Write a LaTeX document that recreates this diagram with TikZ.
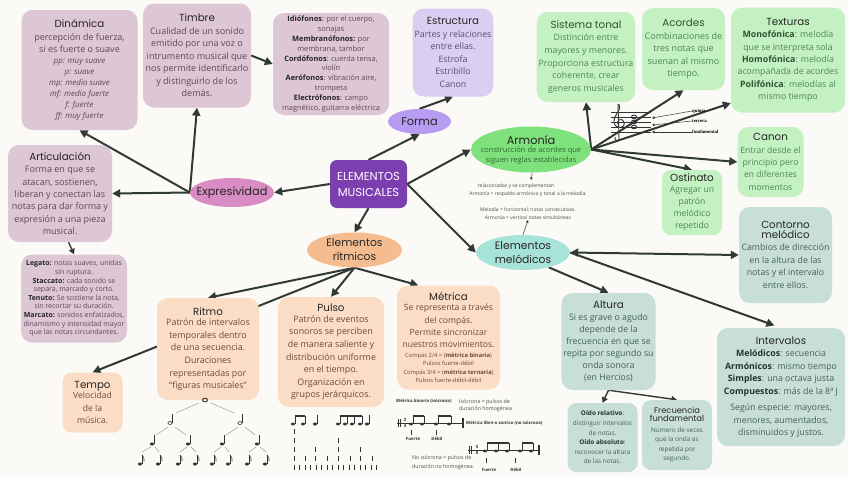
\documentclass[tikz,border=0pt]{standalone}
\usepackage{fontspec}
\setmainfont{Open Sans}
\newfontfamily\titlefont{Poppins}
\newfontfamily\notefont{Liberation Serif}
\usetikzlibrary{arrows.meta,shapes.geometric}
\definecolor{bgc}{HTML}{FCFAF6}
\definecolor{mauveF}{HTML}{DDC7D5}
\definecolor{mauveT}{HTML}{5E4858}
\definecolor{lavF}{HTML}{DACEF3}
\definecolor{lavT}{HTML}{5A4E6E}
\definecolor{formaF}{HTML}{B89CF1}
\definecolor{centerF}{HTML}{7B3FB0}
\definecolor{exprF}{HTML}{D98BC3}
\definecolor{greenF}{HTML}{C3F1C1}
\definecolor{greenT}{HTML}{4B8752}
\definecolor{greenB}{HTML}{2F5233}
\definecolor{armF}{HTML}{7FE17B}
\definecolor{armTc}{HTML}{2F6B33}
\definecolor{tealF}{HTML}{C8DFD9}
\definecolor{tealT}{HTML}{42605A}
\definecolor{tealB}{HTML}{1F3530}
\definecolor{melF}{HTML}{A8E3DA}
\definecolor{orF}{HTML}{F5BD8F}
\definecolor{peachF}{HTML}{FBDCC5}
\definecolor{peachT}{HTML}{6E4B36}
\definecolor{titc}{HTML}{262626}
\definecolor{arrowC}{HTML}{2E3A33}
\definecolor{notec}{HTML}{333333}
\newcommand\mtitle[1]{{\titlefont\fontsize{10.3}{12}\selectfont\color{titc}#1}}
\newcommand\mital[1]{{\itshape\fontsize{8}{10}\selectfont #1}}
\newcommand\ntq[2]{\fill[notec] (#1,#2) ellipse (2.1 and 1.5);\draw[notec,line width=0.5pt] (#1+1.9,#2) -- (#1+1.9,#2-9);}
\newcommand\nth[2]{\draw[notec,line width=0.6pt] (#1,#2) ellipse (2.1 and 1.5);\draw[notec,line width=0.5pt] (#1+2.1,#2) -- (#1+2.1,#2-9);}
\newcommand\ntw[2]{\draw[notec,line width=0.9pt] (#1,#2) ellipse (2.6 and 1.8);}
\newcommand\nte[2]{\ntq{#1}{#2}\draw[notec,line width=0.6pt] (#1+1.9,#2-9) .. controls (#1+3.5,#2-7) and (#1+5,#2-5.5) .. (#1+4,#2-3);}
\newcommand\ntb[2]{\fill[notec] (#1,#2) ellipse (2 and 1.4);\draw[notec,line width=0.5pt] (#1+1.8,#2) -- (#1+1.8,#2-8);}
\pgfdeclarelayer{back}\pgfdeclarelayer{conn}\pgfsetlayers{back,conn,main}
\begin{document}
\begin{tikzpicture}[x=1pt,y=-1pt,
  box/.style={rounded corners=11pt, align=center, inner sep=2pt, font=\fontsize{9}{12.5}\selectfont},
  mbox/.style={box, fill=mauveF, text=mauveT},
  lbox/.style={box, fill=lavF, text=lavT},
  gbox/.style={box, fill=greenF, text=greenT},
  tbox/.style={box, fill=tealF, text=tealT},
  pbox/.style={box, fill=peachF, text=peachT},
  oval/.style={ellipse, inner sep=0pt},
  otext/.style={align=center, inner sep=0pt, text=titc, font=\titlefont\fontsize{11.3}{15}\selectfont},
  conn/.style={draw=arrowC, line width=2pt, -{Triangle[length=8pt,width=8pt]}},
  thinconn/.style={draw=arrowC, line width=1.4pt, -{Triangle[length=5.5pt,width=6pt]}},
  tiny/.style={draw=arrowC, line width=0.5pt, -{Triangle[length=2.5pt,width=2.5pt]}},
  smalltxt/.style={font=\fontsize{5}{7}\selectfont, text=black!70, inner sep=0pt},
  ntxt/.style={font=\fontsize{5.3}{7}\selectfont, text=black!70, inner sep=0pt, anchor=west},
  mtxt/.style={font=\fontsize{4.3}{5}\selectfont\bfseries, text=black!80, inner sep=0pt},
  lbl/.style={font=\notefont\bfseries\fontsize{4.8}{6}\selectfont, inner sep=0pt, anchor=west},
]
\begin{pgfonlayer}{back}
\fill[bgc] (0,0) rectangle (848,477);
\end{pgfonlayer}
\useasboundingbox (0,0) rectangle (848,477);

% ---------- center and ovals ----------
\node[fill=centerF, rounded corners=7pt, minimum width=77pt, minimum height=48pt, align=center, text=white, font=\titlefont\fontsize{11.5}{16}\selectfont] (cen) at (368.5,184) {ELEMENTOS\\MUSICALES};
\node[oval, fill=formaF, minimum width=63pt, minimum height=25pt] (forma) at (419.5,121.5) {};
\node[otext] (formaT) at (forma.center) {Forma};
\node[oval, fill=exprF, minimum width=84pt, minimum height=29pt] (expr) at (232,192.5) {};
\node[otext] (exprT) at (expr.center) {Expresividad};
\node[oval, fill=armF, minimum width=120pt, minimum height=46pt] (arm) at (531,149.5) {};
\node[otext, font=\fontsize{7.5}{9.5}\selectfont, text=armTc] (armT) at (arm.center) {{\titlefont\fontsize{11.3}{13}\selectfont\color{titc}Armonía}\\[-1pt] construcción de acordes que\\ siguen reglas establecidas};
\node[oval, fill=orF, minimum width=95pt, minimum height=35pt] (rit) at (354.5,250) {};
\node[otext, font=\titlefont\fontsize{10.8}{14}\selectfont] (ritT) at (rit.center) {Elementos\\rítmicos};
\node[oval, fill=melF, minimum width=94pt, minimum height=35pt] (mel) at (523,252.5) {};
\node[otext, font=\titlefont\fontsize{10.8}{14}\selectfont] (melT) at (mel.center) {Elementos\\melódicos};

% ---------- mauve ----------
\node[mbox, minimum width=116pt, minimum height=120pt] (din) at (79.5,70) {\mtitle{Dinámica}\\ percepción de fuerza,\\ si es fuerte o suave\\[-1.5pt] \mital{pp: muy suave}\\[-1.5pt] \mital{p: suave}\\[-1.5pt] \mital{mp: medio suave}\\[-1.5pt] \mital{mf: medio fuerte}\\[-1.5pt] \mital{f: fuerte}\\[-1.5pt] \mital{ff: muy fuerte}};
\node[mbox, minimum width=108pt, minimum height=104pt] (tim) at (197,55.5) {\mtitle{Timbre}\\ Cualidad de un sonido\\ emitido por una voz o\\ intrumento musical que\\ nos permite identificarlo\\ y distinguirlo de los\\ demás.};
\node[mbox, minimum width=116pt, minimum height=102pt, font=\fontsize{7.4}{9.8}\selectfont] (idio) at (331,64) {\textbf{\color{titc}Idiófonos}: por el cuerpo,\\ sonajas\\ \textbf{\color{titc}Membranófonos:} por\\ membrana, tambor\\ \textbf{\color{titc}Cordófonos}: cuerda tensa,\\ violín\\ \textbf{\color{titc}Aerófonos}: vibración aire,\\ trompeta\\ \textbf{\color{titc}Electrófonos}: campo\\ magnético, guitarra eléctrica};
\node[mbox, minimum width=104pt, minimum height=97pt, font=\fontsize{9}{12.3}\selectfont] (art) at (60,193.5) {\mtitle{Articulación}\\ Forma en que se\\ atacan, sostienen,\\ liberan y conectan las\\ notas para dar forma y\\ expresión a una pieza\\ musical.};
\node[mbox, minimum width=106pt, minimum height=88pt, font=\fontsize{7}{8.6}\selectfont] (leg) at (74,298.5) {\textbf{\color{titc}Legato:} notas suaves, unidas\\ sin ruptura.\\ \textbf{\color{titc}Staccato:} cada sonido se\\ separa, marcado y corto.\\ \textbf{\color{titc}Tenuto:} Se sostiene la nota,\\ sin recortar su duración.\\ \textbf{\color{titc}Marcato:} sonidos enfatizados,\\ dinamismo y intensidad mayor\\ que las notas circundantes.};

% ---------- lavender ----------
\node[lbox, minimum width=80pt, minimum height=88pt, font=\fontsize{8.8}{12.6}\selectfont] (est) at (453,52.5) {\mtitle{Estructura}\\ Partes y relaciones\\ entre ellas.\\ Estrofa\\ Estribillo\\ Canon};

% ---------- green ----------
\node[gbox, minimum width=97pt, minimum height=90pt, font=\fontsize{8.8}{12.6}\selectfont] (sis) at (586,57) {\mtitle{\color{greenB}Sistema tonal}\\ Distinción entre\\ mayores y menores.\\ Proporciona estructura\\ coherente, crear\\ generos musicales};
\node[gbox, minimum width=83pt, minimum height=82pt] (aco) at (683.5,49) {\mtitle{\color{greenB}Acordes}\\ Combinaciones de\\ tres notas que\\ suenan al mismo\\ tiempo.};
\node[gbox, minimum width=114pt, minimum height=105pt, font=\fontsize{8.8}{12.4}\selectfont] (tex) at (788,60) {\mtitle{Texturas}\\ \textbf{\color{greenB}Monofónica}: melodía\\ que se interpreta sola\\ \textbf{\color{greenB}Homofónica}: melodía\\ acompañada de acordes\\ \textbf{\color{greenB}Polifónica}: melodías al\\ mismo tiempo};
\node[gbox, minimum width=66pt, minimum height=70pt, font=\fontsize{8.6}{12.3}\selectfont] (can) at (770.5,162) {\mtitle{Canon}\\ Entrar desde el\\ principio pero\\ en diferentes\\ momentos};
\node[gbox, minimum width=60pt, minimum height=65pt, rounded corners=9pt, font=\fontsize{8.6}{12.3}\selectfont] (ost) at (692,202.5) {\mtitle{Ostinato}\\[-2pt] Agregar un\\ patrón\\ melódico\\ repetido};

% ---------- teal ----------
\node[tbox, minimum width=93pt, minimum height=96pt, font=\fontsize{8.8}{12.5}\selectfont] (con) at (785.5,255) {\mtitle{Contorno}\\[-3pt] \mtitle{melódico}\\ Cambios de dirección\\ en la altura de las\\ notas y el intervalo\\ entre ellos.};
\node[tbox, minimum width=128pt, minimum height=118pt, font=\fontsize{8.8}{12.5}\selectfont] (int) at (781,387) {\mtitle{Intervalos}\\ \textbf{\color{tealB}Melódicos}: secuencia\\ \textbf{\color{tealB}Armónicos}: mismo tiempo\\ \textbf{\color{tealB}Simples}: una octava justa\\ \textbf{\color{tealB}Compuestos}: más de la 8ª J\\[4pt] Según especie: mayores,\\ menores, aumentados,\\ disminuidos y justos.};
\node[tbox, minimum width=93pt, minimum height=97pt, font=\fontsize{8.8}{12}\selectfont] (alt) at (608.5,341.5) {\mtitle{Altura}\\ Si es grave o agudo\\ depende de la\\ frecuencia en que se\\ repita por segundo su\\ onda sonora\\ (en Hercios)};
\node[tbox, minimum width=70pt, minimum height=69pt, rounded corners=9pt, font=\fontsize{6.4}{9.6}\selectfont] (oid) at (602.5,437.5) {\textbf{\color{tealB}Oído relativo}:\\ distinguir intervalos\\ de notas.\\ \textbf{\color{tealB}Oído absoluto}:\\ reconocer la altura\\ de las notas.};
\node[tbox, minimum width=70pt, minimum height=70pt, rounded corners=9pt, font=\fontsize{6.4}{9.6}\selectfont] (fre) at (677,435) {{\titlefont\fontsize{8.3}{9}\selectfont\color{titc}Frecuencia}\\[-2pt] {\titlefont\fontsize{8.3}{9}\selectfont\color{titc}fundamental}\\[1pt] Número de veces\\ que la onda es\\ repetida por\\ segundo.};

% ---------- peach ----------
\node[pbox, minimum width=102pt, minimum height=102pt, font=\fontsize{8.9}{12.6}\selectfont] (ritmo) at (208,349) {\mtitle{Ritmo}\\[-2pt] Patrón de intervalos\\ temporales dentro\\ de una secuencia.\\ Duraciones\\ representadas por\\ ``figuras musicales''};
\node[pbox, minimum width=106pt, minimum height=110pt, font=\fontsize{8.9}{12.6}\selectfont] (pul) at (331,352) {\mtitle{Pulso}\\[-2pt] Patrón de eventos\\ sonoros se perciben\\ de manera saliente y\\ distribución uniforme\\ en el tiempo.\\ Organización en\\ grupos jerárquicos.};
\node[pbox, minimum width=103pt, minimum height=104pt, font=\fontsize{8.6}{12.2}\selectfont] (met) at (448.5,337.5) {\mtitle{Métrica}\\[-2pt] Se representa a través\\ del compás.\\ Permite sincronizar\\ nuestros movimientos.\\[-2pt] {\fontsize{5.8}{7}\selectfont Compás 2/4 = (\textbf{métrica binaria})}\\[-4pt] {\fontsize{5.8}{7}\selectfont Pulsos fuerte-débil}\\[-4pt] {\fontsize{5.8}{7}\selectfont Compás 3/4 = (\textbf{métrica ternaria})}\\[-4pt] {\fontsize{5.8}{7}\selectfont Pulsos fuerte-débil-débil}};
\node[pbox, minimum width=60pt, minimum height=60pt, rounded corners=9pt, font=\fontsize{8.6}{12.5}\selectfont] (tem) at (92.5,402.5) {\mtitle{Tempo}\\[-2pt] Velocidad\\ de la\\ música.};

% ---------- small notes near Armonia ----------
\node[smalltxt] (sn1) at (516,186) {relacionadas y se complementan};
\node[smalltxt] (sn2) at (528,194) {Armonía = respaldo armónico y tonal a la melodía.};
\node[smalltxt] (sn3) at (528,210) {Melodía = horizontal; notas consecutivas.};
\node[smalltxt] (sn4) at (528,218) {Armonía = vertical notas simultáneas};

% ---------- connectors ----------
\begin{pgfonlayer}{conn}
\draw[conn] (cen.north) -- (forma.south);
\draw[conn] (cen.east) -- (arm.west);
\draw[conn] (cen.east) -- (mel.west);
\draw[conn] (cen.south) -- (rit.north);
\draw[conn] (cen.west) -- (expr.east);
\draw[conn] (forma.north) -- (est.south);
\draw[conn] (expr.west) -- (din.south);
\draw[conn] (expr.west) -- (tim.south);
\draw[conn] (expr.west) -- (art.east);
\draw[conn] (tim.east) -- (idio.west);
\draw[thinconn] (art.-80) -- (leg.north);
\draw[conn] (arm.east) -- (sis.south);
\draw[conn] (arm.east) -- (aco.south);
\draw[conn] (arm.east) -- (tex.217);
\draw[conn] (arm.east) -- (can.west);
\draw[conn] (arm.east) -- (ost.north);
\draw[conn] (rit.south) -- (ritmo.north);
\draw[conn] (rit.south) -- (tem.north);
\draw[conn] (rit.south) -- (pul.north);
\draw[conn] (rit.south) -- (met.120);
\draw[conn] (mel.-30) -- (alt.north);
\draw[conn, {Triangle[length=8pt,width=8pt]}-{Triangle[length=8pt,width=8pt]}] (mel.east) -- (con.west);
\draw[conn, shorten >=7pt] (mel.east) -- (int.north);
\draw[thinconn, {Triangle[length=5.5pt,width=6pt]}-{Triangle[length=5.5pt,width=6pt]}] (oid.north) -- (alt.south) -- (fre.north);
\coordinate (relTop) at (531,180);
\draw[tiny] (arm.-87) -- (relTop);
\draw[tiny] (mel.north) -- (sn4.south);
\end{pgfonlayer}

% ---------- staff near Armonia ----------
\foreach \yy in {112,117,122,127,132} \draw[notec,line width=0.5pt] (611,\yy) -- (651,\yy);
\draw[notec,line width=0.9pt] (618,104) -- (619,139) .. controls (619,142) and (614,141) .. (615,137);
\draw[notec,line width=0.9pt] (618,104) .. controls (624,108) and (613,115) .. (614,122) .. controls (615,130) and (626,129) .. (624,122) .. controls (622,117) and (616,120) .. (618,125);
\ntw{634}{117}\ntw{634}{122}\ntw{634}{127}
\node[lbl] (q5) at (692,111) {quinta};
\node[lbl] (q3) at (692,121) {tercera};
\node[lbl] (q1) at (692,132) {fundamental};
\coordinate (c5) at (652,118); \coordinate (c3) at (652,125); \coordinate (c1) at (652,132);
\draw[tiny] (q5.west) -- (c5);
\draw[tiny] (q3.west) -- (c3);
\draw[tiny] (q1.west) -- (c1);

% ---------- note tree under Ritmo ----------
\begin{scope}[draw=black!45, line width=0.4pt]
\draw (199,403) -- (176,413); \draw (211,403) -- (234,413);
\draw (168,427) -- (156,435); \draw (175,427) -- (186,435);
\draw (238,427) -- (226,435); \draw (245,427) -- (255,435);
\foreach \q/\a/\b in {152/140/158,188/178/195,222/212/228,257/247/265}{
  \draw (\q-1,447) -- (\a+2,452); \draw (\q+3,447) -- (\b+1,452);}
\end{scope}
\ntw{205}{400}
\nth{170}{423}\nth{240}{423}
\ntq{152}{444}\ntq{188}{444}\ntq{222}{444}\ntq{257}{444}
\foreach \e in {140,158,178,195,212,228,247,265} {\nte{\e}{464}}

% ---------- pulse under Pulso ----------
\ntb{293}{424}\ntb{303}{424}
\draw[notec,line width=1.3pt] (294.8,416) -- (304.8,416);
\ntq{315}{424}
\ntb{338}{424}\ntb{345}{424}\ntb{352}{424}\ntb{360}{424}
\draw[notec,line width=1.3pt] (339.8,416) -- (361.8,416);
\ntq{367}{424}
\begin{scope}[notec, line width=0.7pt]
\draw (294,429) -- (294,434);
\foreach \x in {294,338} \draw (\x,438) -- (\x,443);
\foreach \x in {294,315,338,360} \draw (\x,447) -- (\x,452);
\foreach \x in {294,305,315,327,338,350,360,372} \draw (\x,456) -- (\x,461);
\foreach \i in {0,...,15} \draw (294+5.5*\i,465) -- (294+5.5*\i,470);
\end{scope}

% ---------- metric notation ----------
\node[mtxt, anchor=west] (mbin) at (396,401) {Métrica binaria (isócrona)};
\node[ntxt] (iso1) at (459,402) {Isócrona = pulsos de};
\node[ntxt] (iso2) at (459,409) {duración homogénea};
\draw[notec,line width=0.6pt] (397,423) -- (463,423);
\draw[notec,line width=0.8pt] (398,419) -- (398,427);
\draw[notec,line width=0.8pt] (400.5,419) -- (400.5,427);
\node[mtxt] (ts1) at (405,423) {\shortstack{2\\4}};
\draw[notec,line width=1.5pt] (463,418) -- (463,428);
\ntb{411}{424}\ntb{422}{424}
\draw[notec,line width=1.2pt] (412.8,416) -- (423.8,416);
\ntb{436}{424}\ntb{449}{424}
\draw[notec,line width=1.2pt] (437.8,416) -- (450.8,416);
\draw[notec,line width=0.6pt] (411,430) -- (411,435);
\draw[notec,line width=0.6pt] (436,430) -- (436,435);
\node[mtxt] (fu1) at (413,439) {Fuerte};
\node[mtxt] (de1) at (437,439) {Débil};
\node[mtxt, anchor=west] (mlib) at (466,423) {Métrica libre o zorcico (no isócrona)};
\draw[notec,line width=0.6pt] (468,450) -- (539,450);
\draw[notec,line width=0.8pt] (469,446) -- (469,454);
\draw[notec,line width=0.8pt] (471.5,446) -- (471.5,454);
\node[mtxt] (ts2) at (477,450) {\shortstack{5\\8}};
\ntb{485}{451}\ntb{496}{451}\ntb{507}{451}
\draw[notec,line width=1.2pt] (486.8,443) -- (508.8,443);
\ntb{520}{451}\ntb{531}{451}
\draw[notec,line width=1.2pt] (521.8,443) -- (532.8,443);
\draw[notec,line width=1.5pt] (539,445) -- (539,455);
\draw[notec,line width=0.6pt] (486,458) -- (486,463);
\draw[notec,line width=0.6pt] (515,458) -- (515,463);
\node[mtxt] (fu2) at (489,470) {Fuerte};
\node[mtxt] (de2) at (516,470) {Débil};
\node[ntxt] (ni1) at (412,458) {No isócrona = pulsos de};
\node[ntxt] (ni2) at (412,467) {duración no homogénea};
\end{tikzpicture}
\end{document}
